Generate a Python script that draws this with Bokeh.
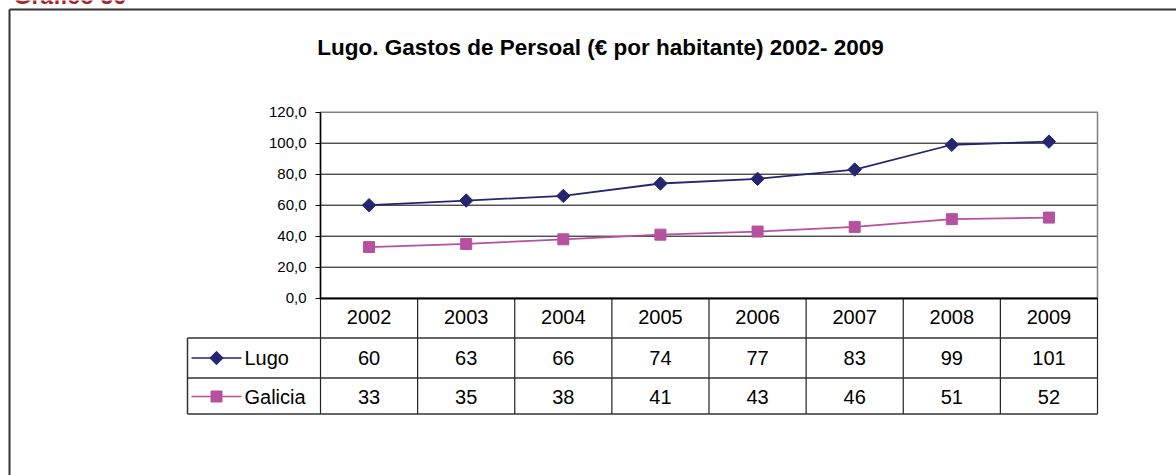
import numpy as np
from bokeh.plotting import figure
from bokeh.models import Range1d, FixedTicker, CustomJSTickFormatter
from bokeh.core.properties import value
from bokeh.embed import file_html
from bokeh.resources import INLINE

# ---------------- data ----------------
years = [2002, 2003, 2004, 2005, 2006, 2007, 2008, 2009]
lugo = [60, 63, 66, 74, 77, 83, 99, 101]
galicia = [33, 35, 38, 41, 43, 46, 51, 52]
series_names = ["Lugo", "Galicia"]
y_ticks = [0, 20, 40, 60, 80, 100, 120]
title_text = "Lugo. Gastos de Persoal (€ por habitante) 2002- 2009"
caption_text = "Gráfico 56"

# ---------------- styles / geometry ----------------
LUGO_C = "#262670"
GAL_C = "#b5519f"
FONT = "Liberation Sans"

W, H = 1176, 475
PLOT_L, PLOT_R, PLOT_T, PLOT_B = 320.0, 1097.0, 111.7, 297.7   # window px
sx = (PLOT_R - PLOT_L) / len(years)
sy = (PLOT_B - PLOT_T) / (y_ticks[-1] - y_ticks[0])
xa = years[0] - 0.5
xb = years[-1] + 0.5
x0 = xa - PLOT_L / sx
x1 = x0 + W / sx
y1 = y_ticks[-1] + PLOT_T / sy
y0 = y1 - H / sy


def X(px):
    return x0 + px / sx


def Y(py):
    return y1 - py / sy


p = figure(width=W, height=H, x_range=Range1d(x0, x1), y_range=Range1d(y0, y1),
           output_backend="svg", toolbar_location=None, title=None,
           min_border=0, outline_line_color=None,
           background_fill_color="white", border_fill_color="white")

# y axis at the left edge of the plot area
p.yaxis.fixed_location = xa
p.yaxis.bounds = (y_ticks[0], y_ticks[-1])
p.yaxis.ticker = FixedTicker(ticks=y_ticks)
p.yaxis.formatter = CustomJSTickFormatter(code="return tick.toFixed(1).replace('.', ',');")
p.yaxis.major_tick_out = 5
p.yaxis.major_tick_in = 0
p.yaxis.minor_tick_line_color = None
p.yaxis.major_label_standoff = 9
p.yaxis.major_label_text_font = FONT
p.yaxis.major_label_text_font_size = "15px"
p.yaxis.major_label_text_color = "black"
p.yaxis.axis_line_color = "black"
p.yaxis.axis_line_width = 1.5
p.yaxis.major_tick_line_color = "black"

# x axis at y = 0, year labels in the header row of the table
p.xaxis.fixed_location = 0
p.xaxis.bounds = (xa, xb)
p.xaxis.ticker = FixedTicker(ticks=years)
p.xaxis.major_tick_out = 0
p.xaxis.major_tick_in = 0
p.xaxis.minor_tick_line_color = None
p.xaxis.major_label_standoff = 12
p.xaxis.major_label_text_font = FONT
p.xaxis.major_label_text_font_size = "20px"
p.xaxis.major_label_text_color = "black"
p.xaxis.axis_line_color = "black"
p.xaxis.axis_line_width = 2

# grid (only across the plot area)
p.xgrid.visible = False
p.ygrid.visible = False
gy = y_ticks[1:-1]
p.segment(x0=[xa] * len(gy), y0=gy, x1=[xb] * len(gy), y1=gy,
          line_color="black", line_width=1)

# plot area border
p.quad(left=[xa], right=[xb], bottom=[y_ticks[0]], top=[y_ticks[-1]],
       fill_color=None, line_color="#808080", line_width=1.5)

# series
p.line(years, lugo, line_color=LUGO_C, line_width=1.8)
p.scatter(years, lugo, marker="square", angle=np.pi / 4, size=9.5,
          fill_color=LUGO_C, line_color=LUGO_C)
p.line(years, galicia, line_color=GAL_C, line_width=1.8)
p.scatter(years, galicia, marker="square", size=11,
          fill_color=GAL_C, line_color=GAL_C)

# data table
row_lines = [Y(337.5), Y(377.5), Y(413.5)]
bounds_x = [yr - 0.5 for yr in years] + [years[-1] + 0.5]
p.segment(x0=bounds_x, y0=[0] * len(bounds_x), x1=bounds_x, y1=[row_lines[-1]] * len(bounds_x),
          line_color="#222222", line_width=1.2)
p.segment(x0=[X(187)] * 3, y0=row_lines, x1=[xb] * 3, y1=row_lines,
          line_color="#333333", line_width=1.5)
p.segment(x0=[X(187)], y0=[row_lines[0]], x1=[X(187)], y1=[row_lines[-1]],
          line_color="#333333", line_width=1.5)

row_y = [Y(357.5), Y(396.0)]
for vals, ry, col, name, mk, msz, ang in [
    (lugo, row_y[0], LUGO_C, series_names[0], "square", 9.5, np.pi / 4),
    (galicia, row_y[1], GAL_C, series_names[1], "square", 11, 0.0),
]:
    p.text(x=years, y=[ry] * len(years), text=[str(v) for v in vals],
           text_align="center", text_baseline="middle",
           text_font=value(FONT), text_font_size=value("20px"), text_color="black")
    p.segment(x0=[X(191)], y0=[ry], x1=[X(241)], y1=[ry], line_color=col, line_width=1.6)
    p.scatter([X(216)], [ry], marker=mk, angle=ang, size=msz, fill_color=col, line_color=col)
    p.text(x=[X(244)], y=[ry], text=[name], text_align="left", text_baseline="middle",
           text_font=value(FONT), text_font_size=value("20px"), text_color="black")

# title
p.text(x=[X(600)], y=[Y(47)], text=[title_text], text_align="center", text_baseline="middle",
       text_font=value(FONT), text_font_size=value("22.5px"), text_font_style="bold",
       text_color="black")

# caption above the frame (mostly cut off at the top of the page, as in the reference)
p.text(x=[X(13)], y=[Y(3)], text=[caption_text], text_align="left", text_baseline="alphabetic",
       y_offset=-8,
       text_font=value(FONT), text_font_size=value("23px"), text_font_style="bold",
       text_color="#a0282d")

# outer frame (left and top edges visible in the window)
p.segment(x0=[X(9), X(9)], y0=[Y(9), Y(9)], x1=[X(9), x1], y1=[y0, Y(9)],
          line_color="#333333", line_width=2)

open("out.html", "w").write(file_html(p, INLINE))
